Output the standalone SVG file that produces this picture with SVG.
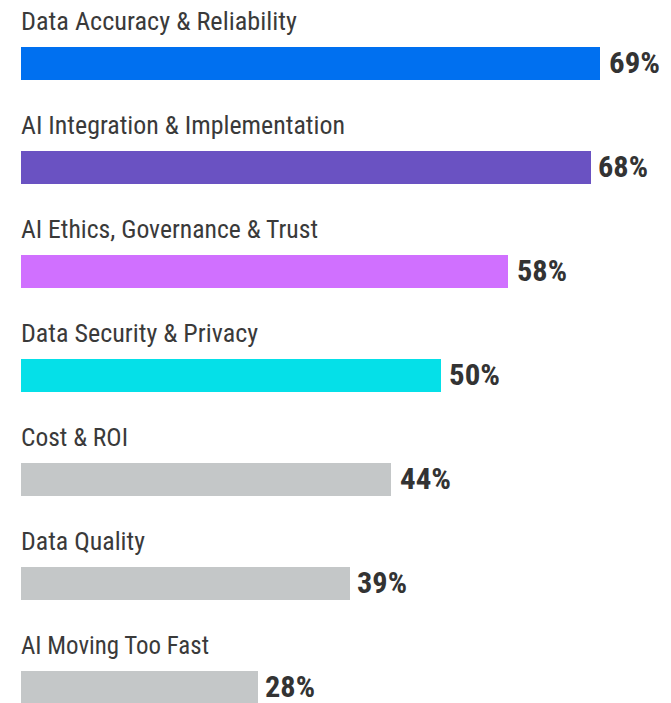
<svg xmlns="http://www.w3.org/2000/svg" width="671" height="703" viewBox="0 0 671 703">
<style>
.lbl{font-family:"Roboto Condensed","Roboto","Liberation Sans",sans-serif;font-stretch:condensed;font-size:26.5px;fill:#3a3a3a}
.pct{font-family:"Roboto Condensed","Roboto","Liberation Sans",sans-serif;font-stretch:condensed;font-weight:bold;font-size:29.5px;fill:#333333}
</style>
<rect width="671" height="703" fill="#ffffff"/>
<g id="row1">
<text class="lbl" x="21" y="29.5" textLength="276" lengthAdjust="spacingAndGlyphs">Data Accuracy &amp; Reliability</text>
<rect x="21" y="47" width="579" height="33" fill="#0070F0"/>
<text class="pct" x="609" y="73" textLength="51" lengthAdjust="spacingAndGlyphs">69%</text>
</g>
<g id="row2">
<text class="lbl" x="21" y="133.5" textLength="324" lengthAdjust="spacingAndGlyphs">AI Integration &amp; Implementation</text>
<rect x="21" y="151" width="570" height="33" fill="#6A52C2"/>
<text class="pct" x="598" y="177" textLength="50" lengthAdjust="spacingAndGlyphs">68%</text>
</g>
<g id="row3">
<text class="lbl" x="21" y="237.5" textLength="297" lengthAdjust="spacingAndGlyphs">AI Ethics, Governance &amp; Trust</text>
<rect x="21" y="255" width="487" height="33" fill="#D070FF"/>
<text class="pct" x="517" y="281" textLength="50" lengthAdjust="spacingAndGlyphs">58%</text>
</g>
<g id="row4">
<text class="lbl" x="21" y="341.5" textLength="237" lengthAdjust="spacingAndGlyphs">Data Security &amp; Privacy</text>
<rect x="21" y="359" width="420" height="33" fill="#05E0E8"/>
<text class="pct" x="449" y="385" textLength="51" lengthAdjust="spacingAndGlyphs">50%</text>
</g>
<g id="row5">
<text class="lbl" x="21" y="445.5" textLength="107" lengthAdjust="spacingAndGlyphs">Cost &amp; ROI</text>
<rect x="21" y="463" width="370" height="33" fill="#C4C7C8"/>
<text class="pct" x="400" y="489" textLength="51" lengthAdjust="spacingAndGlyphs">44%</text>
</g>
<g id="row6">
<text class="lbl" x="21" y="549.5" textLength="124" lengthAdjust="spacingAndGlyphs">Data Quality</text>
<rect x="21" y="567" width="329" height="33" fill="#C4C7C8"/>
<text class="pct" x="357" y="593" textLength="50" lengthAdjust="spacingAndGlyphs">39%</text>
</g>
<g id="row7">
<text class="lbl" x="21" y="653.5" textLength="188" lengthAdjust="spacingAndGlyphs">AI Moving Too Fast</text>
<rect x="21" y="671" width="237" height="33" fill="#C4C7C8"/>
<text class="pct" x="265" y="697" textLength="50" lengthAdjust="spacingAndGlyphs">28%</text>
</g>
<g id="connectors"/>
</svg>
